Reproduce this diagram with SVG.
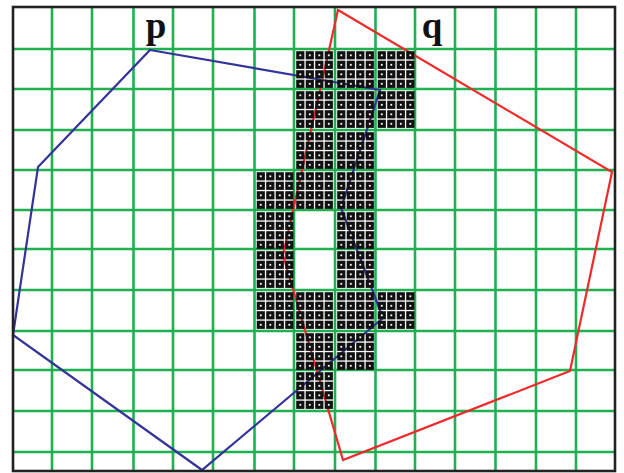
<svg xmlns="http://www.w3.org/2000/svg" xmlns:xlink="http://www.w3.org/1999/xlink" width="624" height="473" viewBox="0 0 624 473">
<style>
.g{stroke:#1fb050;stroke-width:2.6;fill:none}
.b{stroke:#222;stroke-width:2.6;fill:none}
.sq{fill:#fff;stroke:#111;stroke-width:3.2}
.lbl{font-family:"Liberation Serif","DejaVu Serif",serif;font-weight:bold;font-size:37px;fill:#111;text-anchor:middle}
</style>
<defs>
<g id="cell">
<rect class="sq" x="3.8" y="3.8" width="5" height="5"/><rect class="sq" x="13.3" y="3.8" width="5" height="5"/><rect class="sq" x="22.8" y="3.8" width="5" height="5"/><rect class="sq" x="32.3" y="3.8" width="5" height="5"/>
<rect class="sq" x="3.8" y="13.3" width="5" height="5"/><rect class="sq" x="13.3" y="13.3" width="5" height="5"/><rect class="sq" x="22.8" y="13.3" width="5" height="5"/><rect class="sq" x="32.3" y="13.3" width="5" height="5"/>
<rect class="sq" x="3.8" y="22.8" width="5" height="5"/><rect class="sq" x="13.3" y="22.8" width="5" height="5"/><rect class="sq" x="22.8" y="22.8" width="5" height="5"/><rect class="sq" x="32.3" y="22.8" width="5" height="5"/>
<rect class="sq" x="3.8" y="32.3" width="5" height="5"/><rect class="sq" x="13.3" y="32.3" width="5" height="5"/><rect class="sq" x="22.8" y="32.3" width="5" height="5"/><rect class="sq" x="32.3" y="32.3" width="5" height="5"/>
</g>
</defs>
<rect width="624" height="473" fill="#fff"/>
<g id="grid" class="g">
<path d="M52 7V471M92 7V471M133.5 7V471M173 7V471M213 7V471M254.5 7V471M294 7V471M335 7V471M375.5 7V471M415 7V471M455 7V471M495.5 7V471M536 7V471M576 7V471"/>
<path d="M13 49H615M13 89H615M13 130H615M13 170H615M13 210H615M13 249H615M13 290H615M13 331H615M13 370H615M13 411H615M13 452H615"/>
</g>
<g id="polygons" fill="none" stroke-width="2.2" stroke-linejoin="miter">
<polygon id="p" points="150,50 380,90 341,208 383,318 202,470 13,335 38,167" stroke="#33339a"/>
<polygon id="q" points="338,10 612,172 570,371 343,460 283,255" stroke="#ee2a2a"/>
</g>
<g id="cells">
<use xlink:href="#cell" x="294" y="49"/><use xlink:href="#cell" x="335" y="49"/><use xlink:href="#cell" x="375.5" y="49"/>
<use xlink:href="#cell" x="294" y="89"/><use xlink:href="#cell" x="335" y="89"/><use xlink:href="#cell" x="375.5" y="89"/>
<use xlink:href="#cell" x="294" y="130"/><use xlink:href="#cell" x="335" y="130"/>
<use xlink:href="#cell" x="254.5" y="170"/><use xlink:href="#cell" x="294" y="170"/><use xlink:href="#cell" x="335" y="170"/>
<use xlink:href="#cell" x="254.5" y="210"/><use xlink:href="#cell" x="335" y="210"/>
<use xlink:href="#cell" x="254.5" y="249"/><use xlink:href="#cell" x="335" y="249"/>
<use xlink:href="#cell" x="254.5" y="290"/><use xlink:href="#cell" x="294" y="290"/><use xlink:href="#cell" x="335" y="290"/><use xlink:href="#cell" x="375.5" y="290"/>
<use xlink:href="#cell" x="294" y="331"/><use xlink:href="#cell" x="335" y="331"/>
<use xlink:href="#cell" x="294" y="370"/>
</g>
<rect id="border" class="b" x="13" y="7" width="602" height="464"/>
<g id="labels">
<text class="lbl" x="156" y="38">p</text>
<text class="lbl" x="432" y="38">q</text>
</g>
</svg>
